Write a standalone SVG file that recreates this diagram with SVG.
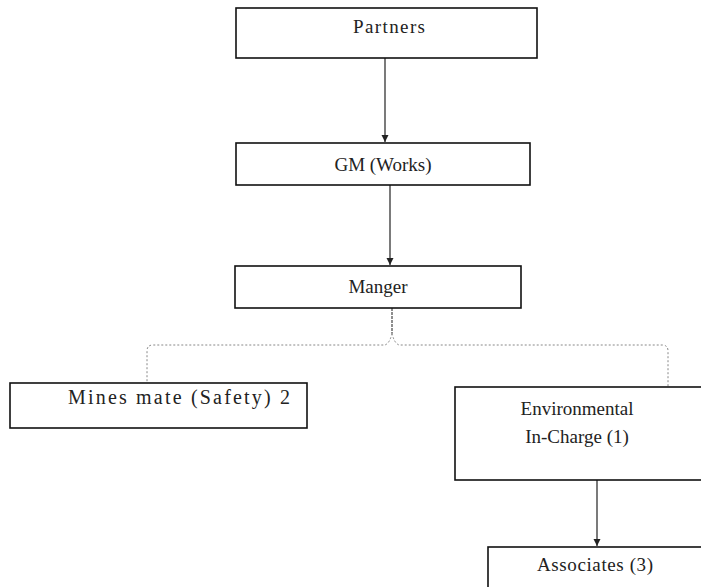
<svg xmlns="http://www.w3.org/2000/svg" width="701" height="587" viewBox="0 0 701 587">
<style>
.box{fill:#fff;stroke:#111;stroke-width:1.6}
.lbl{font-family:"Liberation Serif","Times New Roman",serif;font-size:19px;fill:#222;text-anchor:middle}
.arr{stroke:#222;stroke-width:1.2;fill:none}
.brk{stroke:#888;stroke-width:1;fill:none;stroke-dasharray:2 2}
</style>
<defs>
<marker id="ah" markerUnits="userSpaceOnUse" markerWidth="8" markerHeight="8" refX="7" refY="4" orient="auto">
<path d="M0,0.5 L7,4 L0,7.5 Z" fill="#222"/>
</marker>
</defs>
<rect width="701" height="587" fill="#fff"/>
<g id="connectors">
<line class="arr" x1="385" y1="58" x2="385" y2="142" marker-end="url(#ah)"/>
<line class="arr" x1="390" y1="185" x2="390" y2="265" marker-end="url(#ah)"/>
<line class="arr" x1="597" y1="480" x2="597" y2="546" marker-end="url(#ah)"/>
<line x1="392" y1="308" x2="392" y2="333" stroke="#444" stroke-width="1.2" stroke-dasharray="3 1"/>
<path class="brk" d="M392,333 Q390,343 385,345 L153,345 Q147,345 147,351 L147,383"/>
<path class="brk" d="M392,333 Q394,343 399,345 L662,345 Q668,345 668,351 L668,387"/>
</g>
<g id="partners">
<rect class="box" x="236" y="8" width="301" height="50"/>
<text class="lbl" x="389" y="33" textLength="72" lengthAdjust="spacing">Partners</text>
</g>
<g id="gm">
<rect class="box" x="236" y="143" width="294" height="42"/>
<text class="lbl" x="383" y="171">GM (Works)</text>
</g>
<g id="manger">
<rect class="box" x="235" y="266" width="286" height="42"/>
<text class="lbl" x="378" y="293">Manger</text>
</g>
<g id="mines">
<rect class="box" x="10" y="383" width="297" height="45"/>
<text class="lbl" x="179" y="404" style="font-size:20px" textLength="222" lengthAdjust="spacing">Mines mate (Safety) 2</text>
</g>
<g id="env">
<rect class="box" x="455" y="387" width="260" height="93"/>
<text class="lbl" x="577" y="415">Environmental</text>
<text class="lbl" x="577" y="443">In-Charge (1)</text>
</g>
<g id="associates">
<rect class="box" x="488" y="547" width="230" height="60"/>
<text class="lbl" x="595" y="571" textLength="116" lengthAdjust="spacing">Associates (3)</text>
</g>
</svg>
